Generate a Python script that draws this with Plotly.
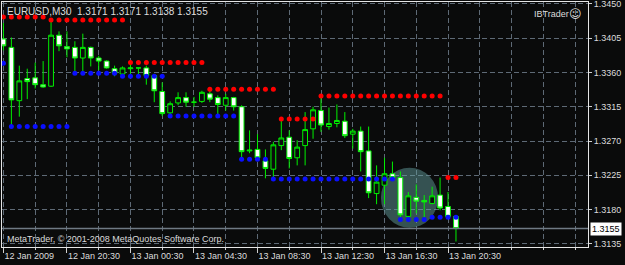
import plotly.graph_objects as go

symbol = "EURUSD"
timeframe = "M30"
broker_label = "IBTrader"
footer_text = "MetaTrader, © 2001-2008 MetaQuotes Software Corp."

# OHLC per M30 bar, starting 12 Jan 2009 16:30
open_ = [1.3404, 1.3393, 1.3323, 1.3352, 1.3353, 1.3344, 1.3342, 1.3409, 1.3394, 1.3393,
         1.3379, 1.3393, 1.3379, 1.3375, 1.3365, 1.3358, 1.3365, 1.3366, 1.3366, 1.3356,
         1.3335, 1.3307, 1.3320, 1.3327, 1.3321, 1.3322, 1.3332, 1.3327, 1.3317, 1.3327,
         1.3315, 1.3257, 1.3259, 1.3244, 1.3233, 1.3264, 1.3275, 1.3248, 1.3264, 1.3286,
         1.3310, 1.3289, 1.3293, 1.3296, 1.3279, 1.3283, 1.3257, 1.3201, 1.3212, 1.3227,
         1.3222, 1.3171, 1.3196, 1.3192, 1.3188, 1.3199, 1.3184, 1.3171]
high = [1.3425, 1.3406, 1.3369, 1.3365, 1.3373, 1.3375, 1.3430, 1.3414, 1.3414, 1.3401,
        1.3411, 1.3394, 1.3382, 1.3376, 1.3369, 1.3368, 1.3372, 1.3366, 1.3369, 1.3356,
        1.3347, 1.3322, 1.3334, 1.3334, 1.3328, 1.3336, 1.3337, 1.3330, 1.3332, 1.3328,
        1.3317, 1.3284, 1.3279, 1.3259, 1.3269, 1.3299, 1.3284, 1.3271, 1.3308, 1.3315,
        1.3328, 1.3314, 1.3318, 1.3308, 1.3286, 1.3289, 1.3289, 1.3238, 1.3248, 1.3243,
        1.3230, 1.3203, 1.3213, 1.3199, 1.3210, 1.3222, 1.3203, 1.3171]
low = [1.3389, 1.3289, 1.3302, 1.3325, 1.3339, 1.3340, 1.3341, 1.3388, 1.3380, 1.3360,
       1.3359, 1.3368, 1.3363, 1.3365, 1.3355, 1.3356, 1.3355, 1.3355, 1.3344, 1.3321,
       1.3303, 1.3303, 1.3317, 1.3315, 1.3315, 1.3320, 1.3321, 1.3305, 1.3310, 1.3310,
       1.3248, 1.3254, 1.3247, 1.3221, 1.3220, 1.3258, 1.3234, 1.3238, 1.3238, 1.3273,
       1.3282, 1.3285, 1.3288, 1.3274, 1.3260, 1.3230, 1.3195, 1.3187, 1.3187, 1.3221,
       1.3168, 1.3167, 1.3175, 1.3170, 1.3187, 1.3179, 1.3170, 1.3138]
close = [1.3395, 1.3324, 1.3349, 1.3348, 1.3344, 1.3341, 1.3409, 1.3395, 1.3391, 1.3379,
         1.3393, 1.3379, 1.3375, 1.3366, 1.3359, 1.3366, 1.3366, 1.3366, 1.3356, 1.3336,
         1.3306, 1.3319, 1.3327, 1.3321, 1.3321, 1.3334, 1.3325, 1.3318, 1.3327, 1.3315,
         1.3256, 1.3258, 1.3248, 1.3234, 1.3265, 1.3274, 1.3247, 1.3262, 1.3285, 1.3311,
         1.3291, 1.3293, 1.3297, 1.3277, 1.3283, 1.3256, 1.3202, 1.3216, 1.3227, 1.3222,
         1.3173, 1.3198, 1.3191, 1.3190, 1.3198, 1.3182, 1.3171, 1.3155]

# Support / resistance dot levels per bar
resistance = [1.3433, 1.3433, 1.3433, 1.3433, 1.3433, 1.3433, 1.3429, 1.3429, 1.3429, 1.3429,
              1.3429, 1.3429, 1.3429, 1.3429, 1.3429, 1.3429, 1.3373, 1.3373, 1.3373, 1.3373,
              1.3373, 1.3373, 1.3373, 1.3373, 1.3373, 1.3373, 1.3338, 1.3338, 1.3338, 1.3338,
              1.3338, 1.3338, 1.3338, 1.3338, 1.3338, 1.3299, 1.3299, 1.3299, 1.3299, 1.3299,
              1.3329, 1.3329, 1.3329, 1.3329, 1.3329, 1.3329, 1.3329, 1.3329, 1.3329, 1.3329,
              1.3329, 1.3329, 1.3329, 1.3329, 1.3329, 1.3329, 1.3222, 1.3222]
support = [1.3372, 1.3289, 1.3289, 1.3289, 1.3289, 1.3289, 1.3289, 1.3289, 1.3289, 1.3359,
           1.3359, 1.3359, 1.3359, 1.3359, 1.3359, 1.3355, 1.3355, 1.3355, 1.3355, 1.3355,
           1.3355, 1.3303, 1.3303, 1.3303, 1.3303, 1.3303, 1.3303, 1.3303, 1.3303, 1.3303,
           1.3246, 1.3246, 1.3246, 1.3246, 1.3220, 1.3220, 1.3220, 1.3220, 1.3220, 1.3220,
           1.3220, 1.3220, 1.3220, 1.3220, 1.3220, 1.3220, 1.3220, 1.3220, 1.3220, 1.3220,
           1.3167, 1.3167, 1.3167, 1.3167, 1.3170, 1.3170, 1.3170, 1.3170]

# time axis (bar index positions of labels, 2h grid)
label_bars = [0, 8, 16, 24, 32, 40, 48, 56]
time_labels = ["12 Jan 2009", "12 Jan 20:30", "13 Jan 00:30", "13 Jan 04:30",
               "13 Jan 08:30", "13 Jan 12:30", "13 Jan 16:30", "13 Jan 20:30"]
minor_bars = [4, 12, 20, 28, 36, 44, 52, 60, 64, 68, 72]
price_ticks = [1.3450, 1.3405, 1.3360, 1.3315, 1.3270, 1.3225, 1.3180, 1.3135]

# highlight ellipse (bar index / price extents)
highlight_bars = [47.55, 54.75]
highlight_prices = [1.3156, 1.3235]

BG = "#0a0b0b"
GRID = "#5e6a76"
GREEN = "#00f000"
TXT = "#dcdcdc"
FONT = "Liberation Sans, Arial, sans-serif"

bars = list(range(len(open_)))

fig = go.Figure()
fig.add_trace(go.Candlestick(
    x=bars, open=open_, high=high, low=low, close=close,
    increasing=dict(line=dict(color=GREEN, width=1), fillcolor=BG),
    decreasing=dict(line=dict(color=GREEN, width=1), fillcolor="#ffffff"),
    whiskerwidth=0, hoverinfo="skip", showlegend=False,
))
fig.add_trace(go.Scatter(x=bars, y=resistance, mode="markers",
                         marker=dict(color="#ff0000", size=5, symbol="circle"),
                         showlegend=False, hoverinfo="skip"))
fig.add_trace(go.Scatter(x=bars, y=support, mode="markers",
                         marker=dict(color="#0a10ff", size=5, symbol="circle"),
                         showlegend=False, hoverinfo="skip"))

fig.add_shape(type="circle", xref="x", yref="y",
              x0=highlight_bars[0], x1=highlight_bars[1],
              y0=highlight_prices[0], y1=highlight_prices[1],
              fillcolor="rgba(100,160,160,0.48)", line=dict(width=0), layer="between")

last_close = close[-1]
fig.add_shape(type="line", xref="paper", yref="y", x0=0, x1=1,
              y0=last_close, y1=last_close, line=dict(color="#6f7a84", width=1.5))

header = f"{symbol},{timeframe}  {open_[-1]:.4f} {high[-1]:.4f} {low[-1]:.4f} {close[-1]:.4f}"
fig.add_annotation(text=header, xref="paper", yref="paper", x=0, y=1, xshift=3, yshift=-2,
                   xanchor="left", yanchor="top", showarrow=False,
                   font=dict(family=FONT, size=10, color=TXT))
fig.add_annotation(text=footer_text, xref="paper", yref="paper", x=0, y=0, xshift=3, yshift=1,
                   xanchor="left", yanchor="bottom", showarrow=False,
                   font=dict(family=FONT, size=9, color=TXT))
fig.add_annotation(text=broker_label, xref="paper", yref="paper", x=1, y=1, xshift=-17, yshift=-5,
                   xanchor="right", yanchor="top", showarrow=False,
                   font=dict(family=FONT, size=9, color=TXT))
fig.add_annotation(text="☺", xref="paper", yref="paper", x=1, y=1, xshift=-4, yshift=-3,
                   xanchor="right", yanchor="top", showarrow=False,
                   font=dict(family="DejaVu Sans", size=12, color=TXT))
fig.add_annotation(text=f"{last_close:.4f}", xref="paper", yref="y", x=1, y=last_close,
                   xshift=2, xanchor="left", yanchor="middle", showarrow=False,
                   bgcolor="#ffffff", borderpad=1,
                   font=dict(family=FONT, size=9, color="#000000"))

fig.update_layout(
    width=625, height=265,
    margin=dict(l=2, r=37, t=2, b=18, pad=0),
    paper_bgcolor=BG, plot_bgcolor=BG,
    boxgap=0.4, boxgroupgap=0,
    showlegend=False,
    font=dict(family=FONT, size=9, color=TXT),
    xaxis=dict(
        range=[-0.18, 73.63], rangeslider=dict(visible=False),
        showline=True, mirror=True, linecolor="#e6e6e6", linewidth=1,
        showgrid=True, gridcolor=GRID, griddash="5px,3px", gridwidth=1,
        tickmode="array", tickvals=label_bars, ticktext=time_labels,
        ticks="outside", ticklen=5, tickcolor="#d0d0d0", tickwidth=1,
        ticklabelposition="outside right", ticklabeloverflow="allow",
        tickfont=dict(family=FONT, size=9, color=TXT),
        minor=dict(tickvals=minor_bars, showgrid=True, gridcolor=GRID, griddash="5px,3px",
                   ticks="outside", ticklen=2, tickcolor="#d0d0d0"),
        zeroline=False, automargin=False,
    ),
    yaxis=dict(
        side="right", range=[1.31308, 1.34526],
        tickmode="array", tickvals=price_ticks, tickformat=".4f",
        ticks="outside", ticklen=3, tickcolor="#d0d0d0",
        ticklabeloverflow="allow",
        showline=True, mirror=True, linecolor="#e6e6e6", linewidth=1,
        showgrid=True, gridcolor=GRID, griddash="5px,3px", gridwidth=1,
        tickfont=dict(family=FONT, size=9, color=TXT),
        zeroline=False, automargin=False,
    ),
)

fig.write_html("out.html")
